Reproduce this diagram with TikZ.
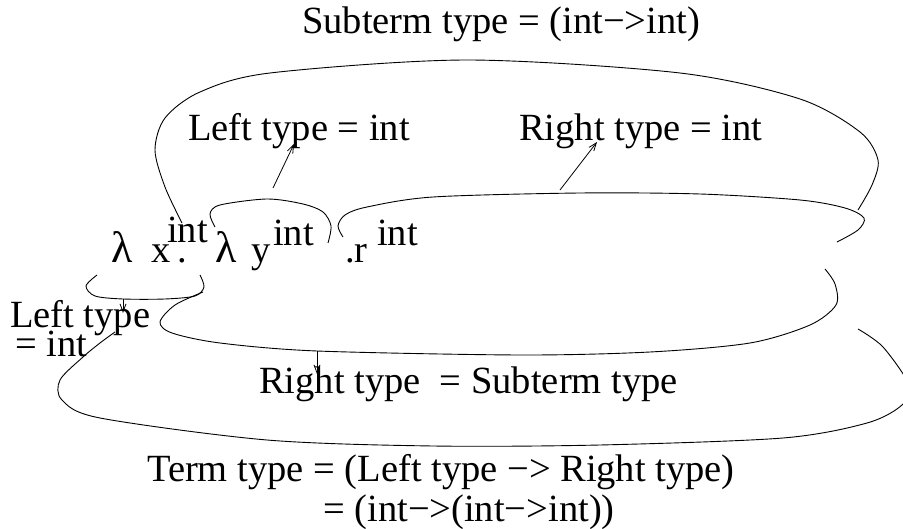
\documentclass[tikz,border=0pt]{standalone}
\usepackage{fontspec}
\setmainfont{Liberation Serif}
\usetikzlibrary{arrows.meta}

\begin{document}
\begin{tikzpicture}[x=1pt, y=-1pt]
\tikzset{
    >={Straight Barb[length=8pt, width=6pt]},
    rotulo/.style={inner sep=0pt, anchor=base west, font=\fontsize{38.5}{40}\selectfont},
    lambda/.style={rotulo, font=\fontsize{44}{46}\selectfont},
    chave/.style={line width=0.9pt, smooth},
    seta/.style={->, line width=0.8pt}
}
\path[use as bounding box, clip] (0,0) rectangle (903,529);
\node[rotulo] (subterm)  at (302,34)  {Subterm type = (int−>int)};
\node[rotulo] (esqint)   at (188,141) {Left type = int};
\node[rotulo] (dirint)   at (519,141) {Right type = int};
\node[lambda] (lamx)     at (111,263) {λ};
\node[rotulo] (varx)     at (151,263) {x};
\node[rotulo] (supx)     at (167,243) {int};
\node[rotulo] (pontox)   at (177,263) {.};
\node[lambda] (lamy)     at (215,263) {λ};
\node[rotulo] (vary)     at (251,263) {y};
\node[rotulo] (supy)     at (273,246) {int};
\node[rotulo] (pontor)   at (345,263) {.r};
\node[rotulo] (supr)     at (377,246) {int};
\node[rotulo] (esqtipo)  at (10,328)  {Left type};
\node[rotulo] (esqigual) at (15,357)  {= int};
\node[rotulo] (dirsub)   at (259,394) {Right type\ \ = Subterm type};
\node[rotulo] (termo)    at (147,481) {Term type = (Left type −> Right type)};
\node[rotulo] (termoval) at (323,521) {= (int−>(int−>int))};
\draw[chave] plot coordinates {(182,223) (165,187) (155,150) (165,118) (200,92) (270,73)
    (467,60) (680,73) (800,99) (860,132) (878,160) (872,185) (858,210)};
\draw[chave] plot coordinates {(343,237) (338,226) (345,215) (367,207) (433,197) (580,193)
    (700,194) (800,200) (845,208) (864,218) (858,230) (837,242)};
\draw[chave] plot coordinates {(215,227) (210,214) (220,205) (267,199) (303,204) (323,212)
    (331,226) (328,243)};
\draw[chave] plot coordinates {(97,275) (86,286) (95,296) (123,299) (165,299) (195,296)
    (204,287) (200,275)};
\draw[chave] plot coordinates {(203,292) (175,305) (160,322) (172,333) (220,343) (317,351)
    (520,355) (650,352) (750,343) (810,325) (836,305) (835,284) (825,269)};
\draw[chave] plot coordinates {(115,332) (100,343) (83,357) (60,380) (62,400) (100,418)
    (267,440) (433,446) (600,445) (783,438) (867,423) (902,405) (909,385) (883,347) (858,329)};
\coordinate (c1) at (123,299);
\coordinate (c2) at (123,313);
\coordinate (c3) at (273,188);
\coordinate (c4) at (294,144);
\coordinate (c5) at (560,190);
\coordinate (c6) at (597,142);
\coordinate (c7) at (317,351);
\coordinate (c8) at (317,374);
\draw[seta] (c1) -- (c2);
\draw[seta] (c3) -- (c4);
\draw[seta] (c5) -- (c6);
\draw[seta] (c7) -- (c8);
\end{tikzpicture}
\end{document}
